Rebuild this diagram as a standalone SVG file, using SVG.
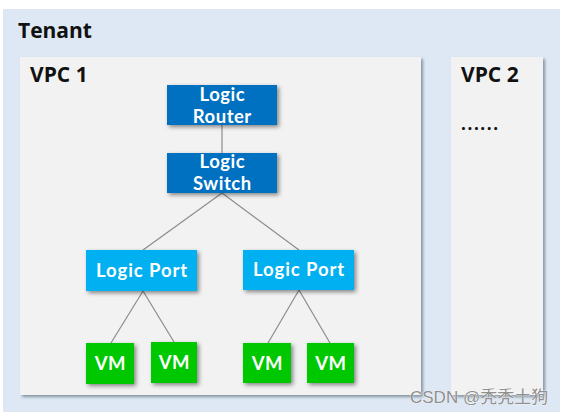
<svg xmlns="http://www.w3.org/2000/svg" width="562" height="415" viewBox="0 0 562 415">
<defs>
<filter id="sh" x="-20%" y="-20%" width="150%" height="150%">
<feDropShadow dx="2" dy="2" stdDeviation="2" flood-color="#000" flood-opacity="0.45"/>
</filter>
<filter id="sh2" x="-10%" y="-10%" width="120%" height="120%">
<feDropShadow dx="2" dy="2" stdDeviation="1.5" flood-color="#4a5a6a" flood-opacity="0.6"/>
</filter>
</defs>
<style>
.t{font-family:"Open Sans","Noto Sans","DejaVu Sans",sans-serif;font-weight:bold}
.h{fill:#111;font-size:21px}
.w{fill:#fff;font-size:18.5px;text-anchor:middle;font-family:Lato,"Open Sans",sans-serif;font-weight:bold;letter-spacing:0.5px}
.wp{letter-spacing:0.9px}
.dark{fill:#0070C0}
.port{fill:#00B0F0}
.vm{fill:#00C800}
.ln{stroke:#8c8c8c;stroke-width:1.2;fill:none}
</style>
<rect x="0" y="0" width="562" height="415" fill="#fff"/>
<g id="tenant">
<rect x="3" y="9" width="557" height="403" fill="#DEE8F4"/>
<text class="t h" x="18" y="38">Tenant</text>
</g>
<g id="vpc1">
<rect x="20" y="57" width="401" height="338" fill="#F2F2F2" filter="url(#sh2)"/>
<text class="t h" x="30" y="82">VPC 1</text>
</g>
<g id="vpc2">
<rect x="451" y="57" width="92" height="338" fill="#F2F2F2" filter="url(#sh2)"/>
<text class="t h" x="461" y="82">VPC 2</text>
<text class="t h" x="461" y="130" style="font-size:17px;letter-spacing:1.6px">......</text>
</g>
<g id="connectors">
<line class="ln" x1="222" y1="125" x2="222" y2="153"/>
<line class="ln" x1="222" y1="193" x2="143" y2="250"/>
<line class="ln" x1="222" y1="193" x2="299" y2="250"/>
<line class="ln" x1="143" y1="291" x2="111" y2="343"/>
<line class="ln" x1="143" y1="291" x2="174" y2="342"/>
<line class="ln" x1="299" y1="290" x2="268" y2="343"/>
<line class="ln" x1="299" y1="290" x2="330" y2="343"/>
</g>
<g id="router">
<rect class="dark" x="167" y="85" width="110" height="40" filter="url(#sh)"/>
<text class="w" x="222.3" y="101">Logic</text>
<text class="w" x="222.3" y="123">Router</text>
</g>
<g id="switch">
<rect class="dark" x="167" y="153" width="110" height="40" filter="url(#sh)"/>
<text class="w" x="222.3" y="168">Logic</text>
<text class="w" x="222.3" y="190">Switch</text>
</g>
<g id="port1">
<rect class="port" x="86" y="250" width="111" height="41" filter="url(#sh)"/>
<text class="w wp" x="142" y="277">Logic Port</text>
</g>
<g id="port2">
<rect class="port" x="243" y="250" width="111" height="40" filter="url(#sh)"/>
<text class="w wp" x="299" y="276">Logic Port</text>
</g>
<g id="vm1">
<rect class="vm" x="86" y="343" width="48" height="41" filter="url(#sh)"/>
<text class="w" x="110.3" y="370">VM</text>
</g>
<g id="vm2">
<rect class="vm" x="151" y="342" width="46" height="41" filter="url(#sh)"/>
<text class="w" x="174.3" y="369">VM</text>
</g>
<g id="vm3">
<rect class="vm" x="243" y="343" width="48" height="40" filter="url(#sh)"/>
<text class="w" x="267.3" y="370">VM</text>
</g>
<g id="vm4">
<rect class="vm" x="307" y="343" width="47" height="40" filter="url(#sh)"/>
<text class="w" x="330.8" y="370">VM</text>
</g>
<text x="410" y="403" style="font-family:'Liberation Sans','Noto Sans CJK SC',sans-serif;font-size:17px;fill:#8f8f8f;stroke:#fff;stroke-width:0.6;paint-order:stroke">CSDN @秃秃土狗</text>
</svg>
